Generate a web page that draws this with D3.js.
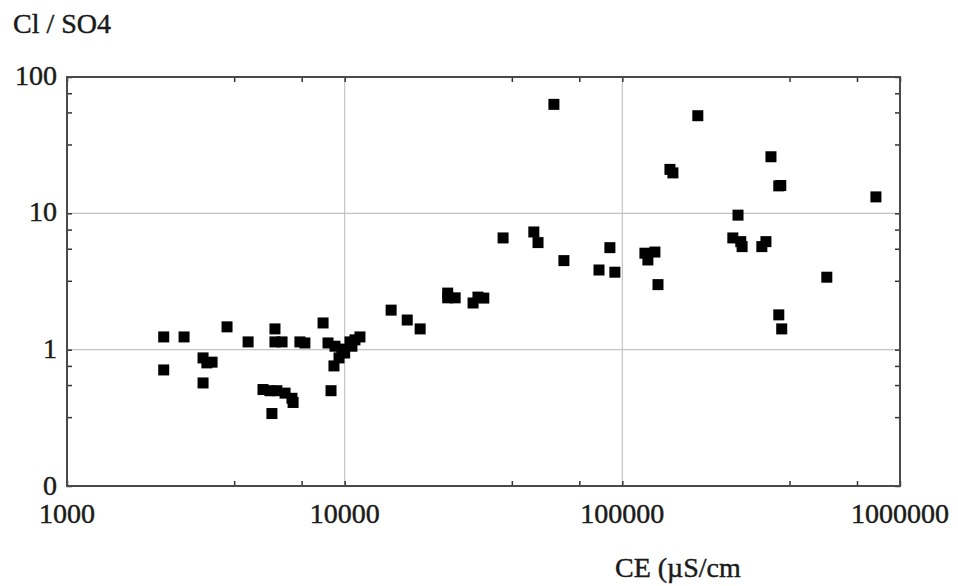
<!DOCTYPE html>
<html>
<head>
<meta charset="utf-8">
<script src="https://cdn.jsdelivr.net/npm/d3@7"></script>
<style>
  html, body { margin: 0; padding: 0; background: #fff; }
  svg { display: block; }
  text { font-family: "Liberation Serif", "Times New Roman", serif; fill: #1a1a1a; stroke: #1a1a1a; stroke-width: 0.45px; }
</style>
</head>
<body>
<svg id="chart" width="958" height="586"></svg>
<script>
// Electrical conductivity (µS/cm) of each sample
const ce = [
  2230, 2230, 2640, 3090, 3330, 3190, 3090, 3770, 4490,
  5610, 5610, 5950, 6900, 7190,
  5080, 5380, 5700, 6100, 6460, 6520, 5470,
  8360, 8710, 8930,
  9230, 9780, 10000, 10450, 10890, 11350, 9540, 9150, 10620,
  14700, 16800, 18700, 23500, 25000, 23500, 29000, 30200, 31700,
  37200, 48000, 49700, 56700, 61600, 82400, 94000, 90200,
  120600, 131000, 123600, 134400, 148400, 152100, 187000,
  261000, 250000, 267000, 270000, 318000, 329000, 343000,
  366000, 372000, 366000, 375000, 545000, 819000
];
// Cl / SO4 ratio of each sample
const clSo4 = [
  1.24, 0.71, 1.24, 0.87, 0.81, 0.80, 0.57, 1.47, 1.14,
  1.42, 1.14, 1.14, 1.14, 1.12,
  0.51, 0.50, 0.50, 0.48, 0.44, 0.41, 0.34,
  1.57, 1.12, 0.50,
  1.06, 1.01, 0.945, 1.14, 1.18, 1.24, 0.87, 0.76, 1.06,
  1.95, 1.65, 1.42, 2.6, 2.4, 2.4, 2.2, 2.43, 2.39,
  6.6, 7.3, 6.1, 63, 4.5, 3.84, 3.7, 5.6,
  5.1, 5.2, 4.55, 3.0, 21, 19.8, 52,
  9.7, 6.6, 6.2, 5.7, 5.7, 6.2, 26,
  15.9, 16.0, 1.8, 1.42, 3.4, 13.2
];

const xTicks = [1000, 10000, 100000, 1000000];
const xTickLabels = ["1000", "10000", "100000", "1000000"];
const yTicks = [0.1, 1, 10, 100];
const yTickLabels = ["0", "1", "10", "100"];
const xMinorTicks = [4000, 7000, 40000, 70000, 400000, 700000];
const yMinorTicks = [0.32, 0.55, 0.76, 3.2, 5.5, 7.6, 32, 55, 76];
const xGrid = [10000, 100000];
const yGrid = [1, 10];

const yTitle = "Cl / SO4";
const xTitle = "CE (µS/cm";

const svg = d3.select("#chart");
const plotLeft = 67, plotRight = 900, plotTop = 77, plotBottom = 486;

const x = d3.scaleLog().domain([1000, 1000000]).range([plotLeft, plotRight]);
const y = d3.scaleLog().domain([0.1, 100]).range([plotBottom, plotTop]);

// grid lines
const grid = svg.append("g");
grid.selectAll("line.gx").data(xGrid).join("line").attr("class", "gx")
  .attr("x1", d => x(d)).attr("x2", d => x(d))
  .attr("y1", plotTop).attr("y2", plotBottom)
  .attr("stroke", "#c4c4c4").attr("stroke-width", 1.2);
grid.selectAll("line.gy").data(yGrid).join("line").attr("class", "gy")
  .attr("y1", d => y(d)).attr("y2", d => y(d))
  .attr("x1", plotLeft).attr("x2", plotRight)
  .attr("stroke", "#c4c4c4").attr("stroke-width", 1.2);

// axes with inward ticks on all four sides
const tickLen = 5;
function inwardAxis(axisFn, scale, values, size) {
  return axisFn(scale).tickValues(values).tickSize(size).tickFormat("");
}
const axes = svg.append("g");
axes.append("g").attr("transform", `translate(0,${plotBottom})`)
  .call(inwardAxis(d3.axisTop, x, xTicks.concat(xMinorTicks), tickLen));
axes.append("g").attr("transform", `translate(0,${plotTop})`)
  .call(inwardAxis(d3.axisBottom, x, xTicks.concat(xMinorTicks), tickLen));
axes.append("g").attr("transform", `translate(${plotLeft},0)`)
  .call(inwardAxis(d3.axisRight, y, yTicks.concat(yMinorTicks), tickLen));
axes.append("g").attr("transform", `translate(${plotRight},0)`)
  .call(inwardAxis(d3.axisLeft, y, yTicks.concat(yMinorTicks), tickLen));
axes.selectAll(".domain").remove();
axes.selectAll(".tick line").attr("stroke", "#333").attr("stroke-width", 1.5);

// frame
svg.append("rect")
  .attr("x", plotLeft).attr("y", plotTop)
  .attr("width", plotRight - plotLeft).attr("height", plotBottom - plotTop)
  .attr("fill", "none").attr("stroke", "#4a4a4a").attr("stroke-width", 2);

// data points
const size = 11;
svg.append("g").selectAll("rect").data(d3.zip(ce, clSo4)).join("rect")
  .attr("x", d => x(d[0]) - size / 2)
  .attr("y", d => y(d[1]) - size / 2)
  .attr("width", size).attr("height", size)
  .attr("fill", "#000");

// tick labels
const fs = 28;
svg.append("g").selectAll("text").data(xTicks).join("text")
  .attr("x", d => x(d)).attr("y", 523)
  .attr("text-anchor", "middle").attr("font-size", fs)
  .text((d, i) => xTickLabels[i]);
svg.append("g").selectAll("text").data(yTicks).join("text")
  .attr("x", 57).attr("y", d => y(d) + (d === 0.1 ? 9 : 8))
  .attr("text-anchor", "end").attr("font-size", fs)
  .text((d, i) => yTickLabels[i]);

// titles
svg.append("text").attr("x", 13).attr("y", 33)
  .attr("font-size", fs).text(yTitle);
svg.append("text").attr("x", 615).attr("y", 577)
  .attr("font-size", fs).text(xTitle);
</script>
</body>
</html>
